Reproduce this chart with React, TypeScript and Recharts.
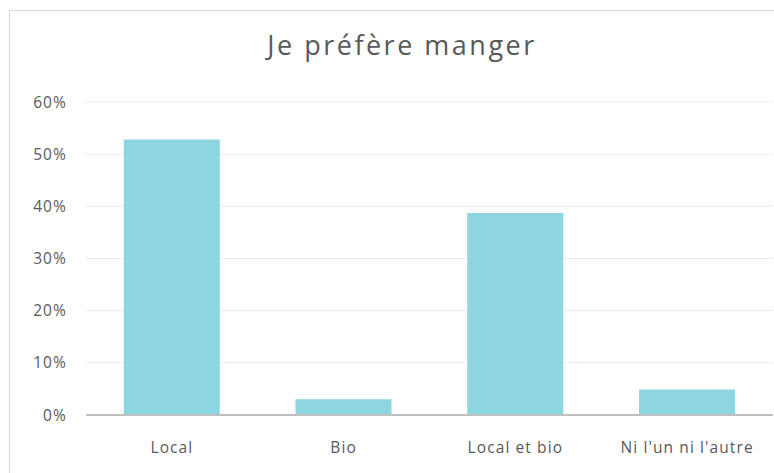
import { BarChart, Bar, XAxis, YAxis, CartesianGrid } from "recharts";

const categories = ["Local", "Bio", "Local et bio", "Ni l'un ni l'autre"];
const shares = [0.528, 0.03, 0.387, 0.049];
const yTicks = [0, 0.1, 0.2, 0.3, 0.4, 0.5, 0.6];

const data = categories.map((name, i) => ({ name, value: shares[i] }));

const textColor = "#595959";
const font = "'Open Sans', 'DejaVu Sans', sans-serif";
const tickStyle = { fill: textColor, fontSize: 15.5, fontFamily: font, letterSpacing: 1.1 };

export default function App() {
  return (
    <div
      style={{
        position: "fixed",
        left: 0,
        top: 0,
        width: 774,
        height: 473,
        background: "#fff",
        overflow: "hidden",
        fontFamily: font,
      }}
    >
      {/* chart frame, only top and left edges are visible */}
      <div
        style={{
          position: "absolute",
          left: 9,
          top: 10,
          width: 764,
          height: 462,
          borderTop: "1px solid #d9d9d9",
          borderLeft: "1px solid #d9d9d9",
        }}
      />
      <div
        style={{
          position: "absolute",
          left: 0,
          width: 804,
          top: 26,
          textAlign: "center",
          fontSize: 27,
          color: textColor,
          letterSpacing: 2.5,
        }}
      >
        Je préfère manger
      </div>
      <div style={{ position: "absolute", left: 0, top: 0 }}>
        <BarChart
          width={774}
          height={473}
          data={data}
          margin={{ top: 102, right: 1, left: 0, bottom: 0 }}
          barCategoryGap="22%"
        >
          <CartesianGrid vertical={false} stroke="#eaeaea" strokeWidth={1} />
          <XAxis
            dataKey="name"
            height={58}
            tickLine={false}
            tickSize={0}
            tickMargin={27}
            axisLine={{ stroke: "#bfbfbf", strokeWidth: 2 }}
            tick={tickStyle}
            interval={0}
          />
          <YAxis
            width={86}
            domain={[0, 0.6]}
            ticks={yTicks}
            axisLine={false}
            tickLine={false}
            tickSize={0}
            tickMargin={19}
            tickFormatter={(v: number) => `${Math.round(v * 100)}%`}
            tick={tickStyle}
          />
          <Bar dataKey="value" fill="#8dd5e0" isAnimationActive={false} />
        </BarChart>
      </div>
    </div>
  );
}
